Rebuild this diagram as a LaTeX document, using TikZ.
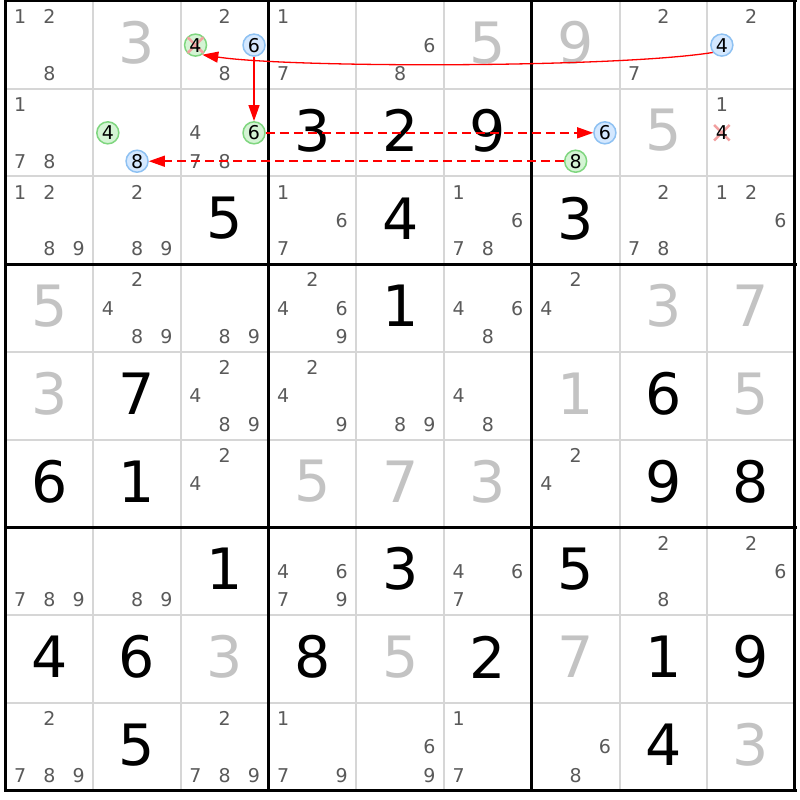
\documentclass[tikz,border=0pt]{standalone}
\usepackage{fontspec}
\setmainfont{DejaVu Sans}
\usetikzlibrary{arrows.meta,shapes.misc}
\definecolor{candgray}{HTML}{5A5A5A}
\definecolor{solvgray}{HTML}{C3C3C3}
\definecolor{thingray}{HTML}{D6D6D6}
\definecolor{gfill}{HTML}{D4F4D4}
\definecolor{gline}{HTML}{7FD67F}
\definecolor{bfill}{HTML}{D4E8FF}
\definecolor{bline}{HTML}{8EC1F2}
\definecolor{xpink}{HTML}{F2A0A0}
\definecolor{arrred}{HTML}{FF0000}
\newcommand\candpos[3]{%
  \pgfmathsetmacro\cx{5.5+(#2-1)*87.72+14.6+mod(#3-1,3)*29.24}%
  \pgfmathsetmacro\cy{1+(#1-1)*87.72+15.7+floor((#3-1)/3)*28.4}}
\newcommand\cands[3]{\foreach \d in {#3}{\candpos{#1}{#2}{\d}\node[cand] (k#1#2\d) at (\cx,\cy) {\d};}}
\newcommand\hl[4]{\candpos{#1}{#2}{#3}\node[#4] (h#1#2#3) at (\cx,\cy) {};}
\newcommand\hltext[3]{\candpos{#1}{#2}{#3}\node[cand,text=black] (t#1#2#3) at (\cx,\cy) {#3};}
\newcommand\xmk[3]{\candpos{#1}{#2}{#3}\node[xm] (x#1#2#3) at (\cx,\cy) {};}
\newcommand\bigd[4]{\pgfmathsetmacro\cx{5.5+(#2-0.5)*87.72}\pgfmathsetmacro\cy{1+(#1-0.5)*87.72-2}\node[bigdigit,text=#4] (b#1#2) at (\cx,\cy) {#3};}
\tikzset{
  cand/.style={inner sep=0pt, font=\fontsize{19}{19}\selectfont, text=candgray},
  bigdigit/.style={inner sep=0pt, font=\fontsize{57}{57}\selectfont},
  gc/.style={circle, minimum size=22pt, inner sep=0pt, draw=gline, fill=gfill, line width=1.5pt},
  bc/.style={circle, minimum size=22pt, inner sep=0pt, draw=bline, fill=bfill, line width=1.5pt},
  xm/.style={cross out, draw=xpink, line width=2.5pt, minimum size=13pt, inner sep=0pt},
  thinline/.style={thingray, line width=2pt},
  thickline/.style={black, line width=3pt},
  arr/.style={draw=arrred, line width=1.3pt, -{Triangle[length=16pt,width=11pt,fill=arrred]}},
  dasharr/.style={arr, line width=1.5pt, dash pattern=on 9pt off 5pt}
}
\begin{document}
\begin{tikzpicture}[x=1pt,y=-1pt]
\fill[white] (0,0) rectangle (800,800);
\useasboundingbox (0,0) rectangle (800,800);
% grid
\foreach \i in {1,2,4,5,7,8}{
  \draw[thinline] ({5.5+\i*87.72},1) -- ({5.5+\i*87.72},790.5);
  \draw[thinline] (5.5,{1+\i*87.72}) -- (795,{1+\i*87.72});
}
\foreach \i in {0,3,6,9}{
  \draw[thickline] ({5.5+\i*87.72},-0.5) -- ({5.5+\i*87.72},792);
  \draw[thickline] (4,{1+\i*87.72}) -- (796.5,{1+\i*87.72});
}
% big digits
\def\G{black}\def\S{solvgray}
\bigd{1}{2}{3}{\S}\bigd{1}{6}{5}{\S}\bigd{1}{7}{9}{\S}
\bigd{2}{4}{3}{\G}\bigd{2}{5}{2}{\G}\bigd{2}{6}{9}{\G}\bigd{2}{8}{5}{\S}
\bigd{3}{3}{5}{\G}\bigd{3}{5}{4}{\G}\bigd{3}{7}{3}{\G}
\bigd{4}{1}{5}{\S}\bigd{4}{5}{1}{\G}\bigd{4}{8}{3}{\S}\bigd{4}{9}{7}{\S}
\bigd{5}{1}{3}{\S}\bigd{5}{2}{7}{\G}\bigd{5}{7}{1}{\S}\bigd{5}{8}{6}{\G}\bigd{5}{9}{5}{\S}
\bigd{6}{1}{6}{\G}\bigd{6}{2}{1}{\G}\bigd{6}{4}{5}{\S}\bigd{6}{5}{7}{\S}\bigd{6}{6}{3}{\S}\bigd{6}{8}{9}{\G}\bigd{6}{9}{8}{\G}
\bigd{7}{3}{1}{\G}\bigd{7}{5}{3}{\G}\bigd{7}{7}{5}{\G}
\bigd{8}{1}{4}{\G}\bigd{8}{2}{6}{\G}\bigd{8}{3}{3}{\S}\bigd{8}{4}{8}{\G}\bigd{8}{5}{5}{\S}\bigd{8}{6}{2}{\G}\bigd{8}{7}{7}{\S}\bigd{8}{8}{1}{\G}\bigd{8}{9}{9}{\G}
\bigd{9}{2}{5}{\G}\bigd{9}{8}{4}{\G}\bigd{9}{9}{3}{\S}
% candidates
\cands{1}{1}{1,2,8}\cands{1}{3}{2,8}\cands{1}{4}{1,7}\cands{1}{5}{6,8}\cands{1}{8}{2,7}\cands{1}{9}{2}
\cands{2}{1}{1,7,8}\cands{2}{3}{4,7,8}\cands{2}{9}{1}
\cands{3}{1}{1,2,8,9}\cands{3}{2}{2,8,9}\cands{3}{4}{1,6,7}\cands{3}{6}{1,6,7,8}\cands{3}{8}{2,7,8}\cands{3}{9}{1,2,6}
\cands{4}{2}{2,4,8,9}\cands{4}{3}{8,9}\cands{4}{4}{2,4,6,9}\cands{4}{6}{4,6,8}\cands{4}{7}{2,4}
\cands{5}{3}{2,4,8,9}\cands{5}{4}{2,4,9}\cands{5}{5}{8,9}\cands{5}{6}{4,8}
\cands{6}{3}{2,4}\cands{6}{7}{2,4}
\cands{7}{1}{7,8,9}\cands{7}{2}{8,9}\cands{7}{4}{4,6,7,9}\cands{7}{6}{4,6,7}\cands{7}{8}{2,8}\cands{7}{9}{2,6}
\cands{9}{1}{2,7,8,9}\cands{9}{3}{2,7,8,9}\cands{9}{4}{1,7,9}\cands{9}{5}{6,9}\cands{9}{6}{1,7}\cands{9}{7}{6,8}
% highlighted candidates
\hl{1}{3}{4}{gc}\hl{1}{3}{6}{bc}\hl{1}{9}{4}{bc}
\hl{2}{2}{4}{gc}\hl{2}{2}{8}{bc}\hl{2}{3}{6}{gc}
\hl{2}{7}{6}{bc}\hl{2}{7}{8}{gc}
\xmk{1}{3}{4}\xmk{2}{9}{4}
\hltext{1}{3}{4}\hltext{1}{3}{6}\hltext{1}{9}{4}
\hltext{2}{2}{4}\hltext{2}{2}{8}\hltext{2}{3}{6}
\hltext{2}{7}{6}\hltext{2}{7}{8}\hltext{2}{9}{4}
% arrows
\draw[arr] (h194.219) .. controls (615,68) and (290,68) .. (h134.-55);
\draw[arr] (h136) -- (h236);
\draw[dasharr] (h236) -- (h276);
\draw[dasharr] (h278) -- (h228);
\end{tikzpicture}
\end{document}
